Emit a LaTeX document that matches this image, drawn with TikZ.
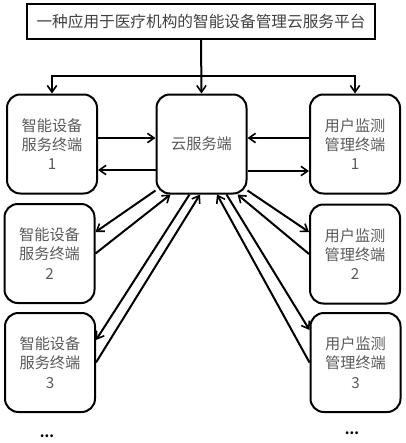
\documentclass[tikz,border=0pt]{standalone}
\usepackage{fontspec}
\setmainfont{Noto Sans CJK SC}
\usetikzlibrary{arrows.meta,calc}
\definecolor{txtgray}{HTML}{404040}
\definecolor{boxgray}{HTML}{5A5A5A}
\newcommand\pxu{0.75pt}
\begin{document}
\begin{tikzpicture}[x=0.75pt,y=-0.75pt,
  line width=1.5pt,
  arr/.style={-{Straight Barb[length=5pt,width=7pt,line width=1.2pt]}},
  termbox/.style={draw,rounded corners=10pt,minimum width=90*\pxu,minimum height=99*\pxu,
    inner sep=0pt,align=center,text=boxgray,font=\fontsize{11.4pt}{14.4pt}\selectfont},
  titlebox/.style={draw,line width=1.3pt,minimum width=348*\pxu,minimum height=35*\pxu,inner sep=0pt,
    text=txtgray,font=\fontsize{11.75pt}{14pt}\selectfont},
  dots/.style={font=\bfseries\fontsize{10pt}{12pt}\selectfont,inner sep=0pt}]
\useasboundingbox (0,0) rectangle (405,443);
\node[titlebox] (top) at (201,21.5) {一种应用于医疗机构的智能设备管理云服务平台};
\node[termbox] (cloud) at (201.5,144) {云服务端};
\node[termbox] (sd1) at (52,144) {智能设备\\服务终端\\1};
\node[termbox] (um1) at (355,144) {用户监测\\管理终端\\1};
\node[termbox] (sd2) at (49.5,253.5) {智能设备\\服务终端\\2};
\node[termbox] (sd3) at (50,362.5) {智能设备\\服务终端\\3};
\node[termbox] (um2) at (355,254) {用户监测\\管理终端\\2};
\node[termbox] (um3) at (355.5,362.5) {用户监测\\管理终端\\3};
\node[dots] (d1) at (47,436) {...};
\node[dots] (d2) at (352,433) {...};
\coordinate (j) at ($(top.south)+(0,36)$);
% top connections
\draw[arr] (top.south) -- (cloud.north);
\draw[arr] (j) -| (sd1.north);
\draw[arr] (j) -| (um1.north);
% row 1
\draw[arr] ($(sd1.east)+(0,-6)$) -- ($(cloud.west)+(0,-6)$);
\draw[arr] ($(cloud.west)+(0,26)$) -- ($(sd1.east)+(0,26)$);
\draw[arr] ($(um1.west)+(0,-6)$) -- ($(cloud.east)+(0,-6)$);
\draw[arr] ($(cloud.east)+(0,27)$) -- ($(um1.west)+(0,27)$);
% left diagonals
\draw[arr] ($(cloud.south)+(-46,-4)$) -- ($(sd2.east)+(0,-21.5)$);
\draw[arr] (sd2.east) -- ($(cloud.south)+(-31,0)$);
\draw[arr] ($(cloud.south)+(-12,0)$) -- ($(sd3.east)+(0,-22.5)$);
\draw[arr] (sd3.east) -- ($(cloud.south)+(-1.5,0)$);
% right diagonals
\draw[arr] ($(cloud.south)+(46,-4)$) -- ($(um2.west)+(0,-22)$);
\draw[arr] (um2.west) -- ($(cloud.south)+(36,0)$);
\draw[arr] ($(cloud.south)+(25,0)$) -- ($(um3.west)+(0,-32.5)$);
\draw[arr] (um3.west) -- ($(cloud.south)+(15.5,0)$);
\end{tikzpicture}
\end{document}
